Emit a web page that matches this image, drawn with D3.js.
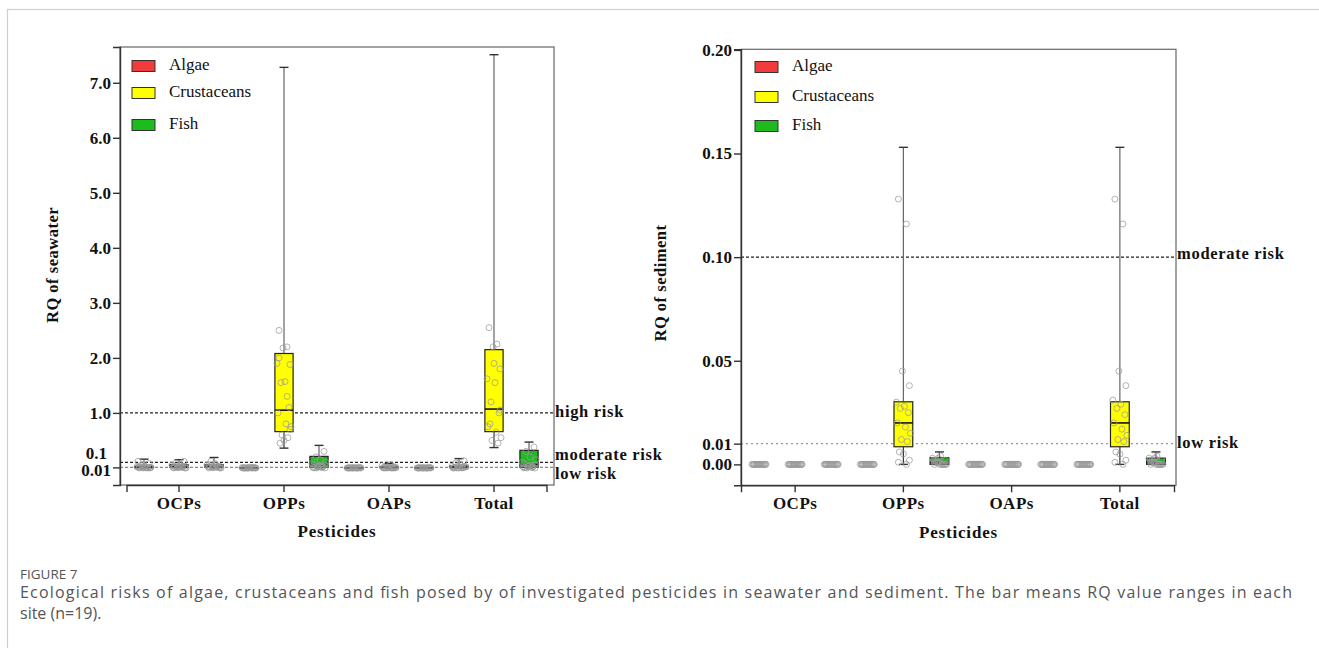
<!DOCTYPE html>
<html>
<head>
<meta charset="utf-8">
<script src="https://cdn.jsdelivr.net/npm/d3@7/dist/d3.min.js"></script>
<style>
html,body{margin:0;padding:0;background:#fff;}
svg{display:block;}
</style>
</head>
<body>
<svg id="chart" width="1319" height="648"></svg>
<script>
// ---------------- DATA ----------------
const categories = ["OCPs", "OPPs", "OAPs", "Total"];
const series = ["Algae", "Crustaceans", "Fish"];
const seriesColors = ["#f23c3c", "#ffff00", "#1dbb1d"];

// Box stats per category: [min, q1, median, q3, max]
const seaAlgae = [[0, 0.004, 0.01, 0.03, 0.16], [0, 0, 0.002, 0.005, 0.01], [0, 0, 0.002, 0.004, 0.008], [0, 0.004, 0.012, 0.035, 0.17]];
const seaCrustaceans = [[0, 0.01, 0.03, 0.06, 0.15], [0.36, 0.66, 1.05, 2.08, 7.28], [0, 0.004, 0.01, 0.02, 0.08], [0.37, 0.66, 1.07, 2.15, 7.51]];
const seaFish = [[0, 0.01, 0.03, 0.06, 0.19], [0, 0.01, 0.05, 0.21, 0.41], [0, 0, 0.002, 0.005, 0.01], [0, 0.01, 0.06, 0.32, 0.47]];

const sedAlgae = [[0, 0, 0, 0, 0], [0, 0, 0, 0, 0], [0, 0, 0, 0, 0], [0, 0, 0, 0, 0]];
const sedCrustaceans = [[0, 0, 0, 0, 0], [0, 0.0085, 0.020, 0.0302, 0.153], [0, 0, 0, 0, 0], [0, 0.0085, 0.020, 0.0302, 0.153]];
const sedFish = [[0, 0, 0, 0, 0], [0, 0, 0.001, 0.0032, 0.006], [0, 0, 0, 0, 0], [0, 0, 0.001, 0.003, 0.006]];

// Individual site values (n=19) drawn as open circles
const zeros19 = [0, 0, 0, 0, 0, 0, 0, 0, 0, 0, 0, 0, 0, 0, 0, 0, 0, 0, 0];
const seaAlgaePoints = [
  [0, 0.005, 0.01, 0.01, 0.02, 0.03, 0.05, 0.08, 0.12, 0.0, 0.01, 0.02, 0, 0.005, 0.01, 0, 0.02, 0.01, 0],
  [0, 0, 0, 0.002, 0.005, 0.01, 0, 0.003, 0, 0.001, 0, 0, 0.002, 0, 0.001, 0, 0, 0.004, 0],
  [0, 0, 0.002, 0.004, 0, 0.001, 0, 0.003, 0, 0, 0.001, 0, 0, 0.002, 0, 0, 0.001, 0, 0],
  [0, 0.005, 0.01, 0.02, 0.03, 0.06, 0.09, 0.13, 0.0, 0.01, 0.02, 0, 0.005, 0.01, 0, 0.02, 0.01, 0, 0.04]
];
const seaCrustaceansPoints = [
  [0, 0.01, 0.02, 0.03, 0.05, 0.06, 0.09, 0.12, 0.01, 0.02, 0, 0.01, 0.03, 0.02, 0.01, 0, 0.04, 0.02, 0.01],
  [2.5, 2.2, 2.18, 1.88, 1.9, 1.57, 1.55, 1.1, 1.0, 0.8, 0.75, 0.6, 0.55, 0.45, 0.5, 0.7, 2.0, 1.3],
  [0, 0.004, 0.01, 0.02, 0.04, 0.06, 0, 0.01, 0.002, 0, 0.005, 0.01, 0, 0.003, 0.008, 0, 0.01, 0, 0.002],
  [2.55, 2.25, 2.2, 1.8, 1.62, 1.55, 1.2, 1.0, 0.75, 0.65, 0.55, 0.5, 0.45, 0.8, 1.9, 1.05]
];
const seaFishPoints = [
  [0, 0.01, 0.02, 0.03, 0.05, 0.08, 0.12, 0.01, 0.02, 0.04, 0, 0.01, 0.03, 0.02, 0.01, 0, 0.06, 0.02, 0.01],
  [0, 0.01, 0.02, 0.05, 0.08, 0.15, 0.2, 0.3, 0.01, 0.03, 0.1, 0, 0.02, 0.01, 0.04, 0, 0.06, 0.01, 0.02],
  [0, 0, 0.002, 0.005, 0, 0.001, 0, 0.003, 0, 0, 0.001, 0, 0, 0.002, 0, 0, 0.001, 0, 0],
  [0, 0.01, 0.03, 0.06, 0.1, 0.2, 0.3, 0.38, 0.02, 0.05, 0.15, 0, 0.02, 0.01, 0.04, 0, 0.08, 0.01, 0.02]
];

const sedAlgaePoints = [zeros19, zeros19, zeros19, zeros19];
const sedCrustaceansPoints = [
  zeros19,
  [0.128, 0.116, 0.045, 0.038, 0.03, 0.028, 0.027, 0.025, 0.02, 0.018, 0.015, 0.012, 0.011, 0.006, 0.005, 0.002, 0.001, 0.0],
  zeros19,
  [0.128, 0.116, 0.045, 0.038, 0.031, 0.029, 0.027, 0.024, 0.02, 0.017, 0.014, 0.012, 0.011, 0.006, 0.005, 0.002, 0.001, 0.0]
];
const sedFishPoints = [
  zeros19,
  [0, 0, 0.001, 0.002, 0.003, 0.004, 0.001, 0, 0.002, 0, 0, 0.001, 0, 0.002, 0, 0, 0.001, 0, 0.003],
  zeros19,
  [0, 0, 0.001, 0.002, 0.003, 0.004, 0.001, 0, 0.002, 0, 0, 0.001, 0, 0.002, 0, 0, 0.001, 0, 0.003]
];

const seaTickValues = [0.01, 0.1, 1, 2, 3, 4, 5, 6, 7];
const seaTickLabels = ["0.01", "0.1", "1.0", "2.0", "3.0", "4.0", "5.0", "6.0", "7.0"];
const sedTickValues = [0, 0.01, 0.05, 0.10, 0.15, 0.20];
const sedTickLabels = ["0.00", "0.01", "0.05", "0.10", "0.15", "0.20"];

const seaRiskValues = [1, 0.1, 0.01];
const seaRiskLabels = ["high risk", "moderate risk", "low risk"];
const sedRiskValues = [0.10, 0.01];
const sedRiskLabels = ["moderate risk", "low risk"];

const seaDomain = [-0.31, 7.65];
const sedDomain = [-0.0101, 0.2003];

// ---------------- DRAWING ----------------
const svg = d3.select("#chart");
const SERIF = "'Liberation Serif','Times New Roman',serif";
const SANS = "'Open Sans','Noto Sans',sans-serif";

// outer figure frame
svg.append("rect").attr("x", 7.5).attr("y", 9.5).attr("width", 1340).attr("height", 680)
  .attr("fill", "none").attr("stroke", "#cfcfcf").attr("stroke-width", 1.2);

const jitter = [-5, 3, -1, 6, -7, 1, -3, 5, -6, 2, 7, -2, 4, -4, 0, 6, -5, 3, -1, 5];

function drawPanel(cfg) {
  const g = svg.append("g");
  const x = d3.scaleBand().domain(categories).range(cfg.xRange).padding(0);
  const xs = d3.scaleBand().domain(series).range([0, x.bandwidth()]).padding(0);
  const y = d3.scaleLinear().domain(cfg.domain).range([cfg.bottom, cfg.top]);
  const left = cfg.left, right = cfg.right;
  const boxW = xs.bandwidth() * 0.52;

  // plot frame
  g.append("rect").attr("x", left).attr("y", cfg.top).attr("width", right - left).attr("height", cfg.bottom - cfg.top)
    .attr("fill", "none").attr("stroke", "#666").attr("stroke-width", 1.2);

  // risk lines
  cfg.riskValues.forEach((v, i) => {
    g.append("line").attr("x1", left).attr("x2", right).attr("y1", y(v)).attr("y2", y(v))
      .attr("stroke", cfg.riskColors[i]).attr("stroke-width", 1.2).attr("stroke-dasharray", cfg.riskDash[i]);
    g.append("text").attr("x", right + 1).attr("y", y(v) + cfg.riskLabelDy[i])
      .attr("dominant-baseline", "middle").attr("font-family", SERIF).attr("font-weight", "bold")
      .attr("font-size", 16.5).attr("letter-spacing", 0.7).attr("fill", "#111").text(cfg.riskLabels[i]);
  });

  // boxes
  cfg.stats.forEach((arr, si) => {
    arr.forEach((s, ci) => {
      const cx = x(categories[ci]) + xs(series[si]) + xs.bandwidth() / 2;
      const [mn, q1, md, q3, mx] = s;
      const bg = g.append("g");
      if (mx > q3) {
        bg.append("line").attr("x1", cx).attr("x2", cx).attr("y1", y(q3)).attr("y2", y(mx))
          .attr("stroke", "#666").attr("stroke-width", 1.2);
        bg.append("line").attr("x1", cx - 4.5).attr("x2", cx + 4.5).attr("y1", y(mx)).attr("y2", y(mx))
          .attr("stroke", "#333").attr("stroke-width", 1.4);
      }
      if (q1 > mn || (q3 > 0 && mn === 0 && cfg.drawLowCap)) {
        bg.append("line").attr("x1", cx).attr("x2", cx).attr("y1", y(q1)).attr("y2", y(mn))
          .attr("stroke", "#333").attr("stroke-width", 1.2);
        bg.append("line").attr("x1", cx - 4.5).attr("x2", cx + 4.5).attr("y1", y(mn)).attr("y2", y(mn))
          .attr("stroke", "#333").attr("stroke-width", 1.4);
      }
      if (q3 > q1) {
        bg.append("rect").attr("x", cx - boxW / 2).attr("y", y(q3)).attr("width", boxW)
          .attr("height", Math.max(0.5, y(q1) - y(q3)))
          .attr("fill", seriesColors[si]).attr("stroke", "#222").attr("stroke-width", 1.2);
        bg.append("line").attr("x1", cx - boxW / 2).attr("x2", cx + boxW / 2).attr("y1", y(md)).attr("y2", y(md))
          .attr("stroke", "#111").attr("stroke-width", 1.6);
      }
      // points
      const pts = cfg.points[si][ci];
      pts.forEach((v, pi) => {
        bg.append("circle").attr("cx", cx + jitter[pi % jitter.length] * cfg.jitterScale).attr("cy", y(v))
          .attr("r", 3).attr("fill", "none").attr("stroke", "#999").attr("stroke-opacity", 0.75).attr("stroke-width", 1);
      });
    });
  });

  // y axis
  const ya = g.append("g").attr("transform", `translate(${left},0)`)
    .call(d3.axisLeft(y).tickValues(cfg.tickValues).tickFormat((d, i) => cfg.tickLabels[i]).tickSize(7).tickPadding(2));
  ya.select(".domain").attr("stroke", "#333").attr("stroke-width", 1.4);
  ya.selectAll(".tick line").attr("stroke", "#333").attr("stroke-width", 1.4);
  ya.selectAll(".tick text").attr("font-family", SERIF).attr("font-weight", "bold").attr("font-size", 17).attr("fill", "#111");
  if (cfg.shiftTick !== undefined) {
    const t = ya.selectAll(".tick").filter(d => d === cfg.shiftTick);
    t.select("line").remove();
    t.select("text").attr("dy", "-0.26em").attr("x", -13);
    ya.selectAll(".tick").filter(d => d === cfg.tickValues[0]).select("text").attr("dy", "0.5em");
  }

  // x axis
  const xa = g.append("g").attr("transform", `translate(0,${cfg.bottom})`)
    .call(d3.axisBottom(x).tickSize(7).tickPadding(5));
  xa.select(".domain").attr("stroke", "#333").attr("stroke-width", 1.4);
  xa.selectAll(".tick line").attr("stroke", "#333").attr("stroke-width", 1.4);
  xa.selectAll(".tick text").attr("font-family", SERIF).attr("font-weight", "bold").attr("font-size", 17)
    .attr("fill", "#111").attr("letter-spacing", 0.5);

  // axis titles
  g.append("text").attr("x", (left + right) / 2).attr("y", cfg.xTitleY).attr("text-anchor", "middle")
    .attr("font-family", SERIF).attr("font-weight", "bold").attr("font-size", 17).attr("letter-spacing", 0.8)
    .attr("fill", "#111").text("Pesticides");
  g.append("text").attr("transform", `translate(${cfg.yTitleX},${cfg.yTitleY}) rotate(-90)`).attr("text-anchor", "middle")
    .attr("font-family", SERIF).attr("font-weight", "bold").attr("font-size", 16.5).attr("letter-spacing", 0.5)
    .attr("fill", "#111").text(cfg.yTitle);

  // legend
  series.forEach((s, i) => {
    g.append("rect").attr("x", cfg.legX).attr("y", cfg.legY[i] - 5.5).attr("width", 23).attr("height", 11)
      .attr("fill", seriesColors[i]).attr("stroke", "#333").attr("stroke-width", 1);
    g.append("text").attr("x", cfg.legX + 37).attr("y", cfg.legY[i]).attr("dominant-baseline", "middle")
      .attr("font-family", SERIF).attr("font-size", 17).attr("fill", "#111").text(s);
  });
}

drawPanel({
  left: 120, right: 554, top: 47, bottom: 485,
  xRange: [126.5, 546.5], domain: seaDomain,
  stats: [seaAlgae, seaCrustaceans, seaFish],
  points: [seaAlgaePoints, seaCrustaceansPoints, seaFishPoints],
  tickValues: seaTickValues, tickLabels: seaTickLabels, shiftTick: 0.1,
  riskValues: seaRiskValues, riskLabels: seaRiskLabels,
  riskColors: ["#222", "#222", "#888"], riskDash: ["3,2", "3,2", "3,2"], riskLabelDy: [0, -6.5, 7.5],
  xTitleY: 537, yTitleX: 58, yTitleY: 265, yTitle: "RQ of seawater",
  legX: 132, legY: [66, 93, 125], jitterScale: 1, drawLowCap: false
});

drawPanel({
  left: 741, right: 1176, top: 49.3, bottom: 485.3,
  xRange: [741, 1174], domain: sedDomain,
  stats: [sedAlgae, sedCrustaceans, sedFish],
  points: [sedAlgaePoints, sedCrustaceansPoints, sedFishPoints],
  tickValues: sedTickValues, tickLabels: sedTickLabels,
  riskValues: sedRiskValues, riskLabels: sedRiskLabels,
  riskColors: ["#222", "#999"], riskDash: ["3,2", "2,3"], riskLabelDy: [-2, 1],
  xTitleY: 538, yTitleX: 666, yTitleY: 283, yTitle: "RQ of sediment",
  legX: 755, legY: [67, 97, 126], jitterScale: 1, drawLowCap: true
});

// caption
svg.append("text").attr("x", 20).attr("y", 579).attr("font-family", SANS).attr("font-size", 13.5)
  .attr("fill", "#555").text("FIGURE 7");
svg.append("text").attr("x", 20).attr("y", 598).attr("font-family", SANS).attr("font-size", 16)
  .attr("fill", "#555").attr("textLength", 1272).attr("lengthAdjust", "spacing")
  .text("Ecological risks of algae, crustaceans and fish posed by of investigated pesticides in seawater and sediment. The bar means RQ value ranges in each");
svg.append("text").attr("x", 20).attr("y", 619).attr("font-family", SANS).attr("font-size", 16)
  .attr("fill", "#555").text("site (n=19).");
</script>
</body>
</html>
